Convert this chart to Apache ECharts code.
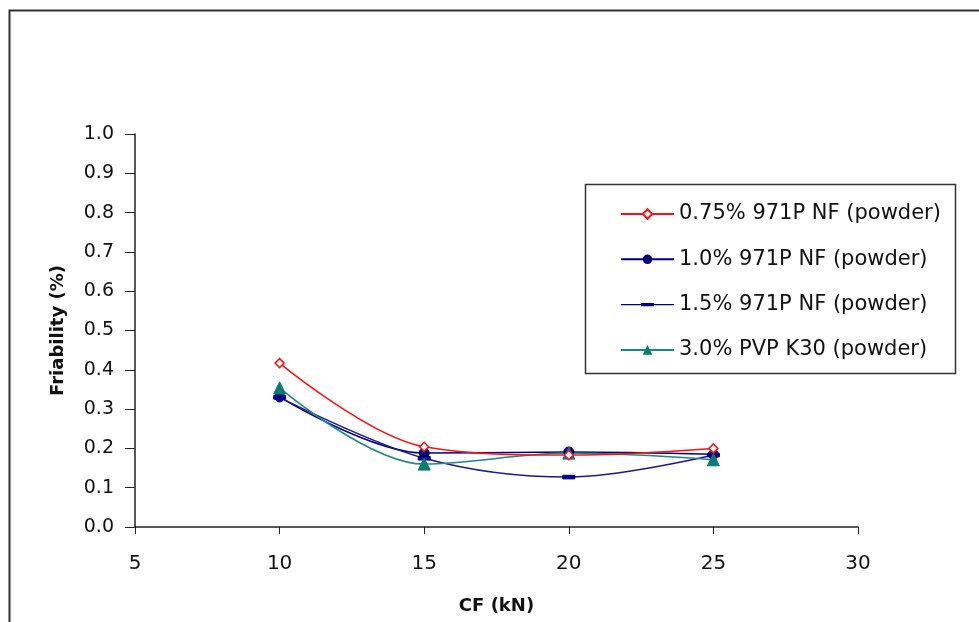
<!DOCTYPE html>
<html>
<head>
<meta charset="utf-8">
<script src="https://cdn.jsdelivr.net/npm/echarts@6/dist/echarts.min.js"></script>
<style>
html,body{margin:0;padding:0;background:#fff;}
#c{width:979px;height:622px;}
</style>
</head>
<body>
<div id="c"></div>
<script>
const cf = [10, 15, 20, 25];
const s075 = [0.417, 0.204, 0.183, 0.200];
const s100 = [0.331, 0.188, 0.191, 0.185];
const s150 = [0.330, 0.175, 0.127, 0.183];
const s300 = [0.354, 0.160, 0.188, 0.171];
const seriesNames = ['0.75% 971P NF (powder)', '1.0% 971P NF (powder)', '1.5% 971P NF (powder)', '3.0% PVP K30 (powder)'];
const yTicks = [0.0, 0.1, 0.2, 0.3, 0.4, 0.5, 0.6, 0.7, 0.8, 0.9, 1.0];
const xTicks = [5, 10, 15, 20, 25, 30];

const font = 'DejaVu Sans, Arial, sans-serif';
const chart = echarts.init(document.getElementById('c'));
const pair = arr => cf.map((x, i) => [x, arr[i]]);

const dashPath = 'path://M0,0 L10,0 L10,3 L0,3 Z';
const dashLegendIcon = 'path://M0,0 L0.05,0 L0,0.05 Z M53,12 L52.95,12 L53,11.95 Z M0,5.3 L53,5.3 L53,6.7 L0,6.7 Z M20,4.3 L33,4.3 L33,7.7 L20,7.7 Z';

chart.setOption({
  animation: false,
  backgroundColor: '#fff',
  graphic: [
    {type: 'rect', shape: {x: 9.5, y: 10.5, width: 1000, height: 700}, style: {fill: 'none', stroke: '#333', lineWidth: 2}, z: 0},
    {type: 'rect', shape: {x: 585.5, y: 184.5, width: 370, height: 189}, style: {fill: '#fff', stroke: '#333', lineWidth: 1.5}, z: 1}
  ],
  grid: {left: 135, right: 121, top: 134, bottom: 95, containLabel: false, outerBoundsMode: 'none'},
  legend: {
    orient: 'vertical',
    left: 615,
    top: 197,
    itemGap: 21.3,
    itemWidth: 53,
    itemHeight: 12,
    itemTextGap: 5,
    z: 5,
    textStyle: {fontFamily: font, fontSize: 21, lineHeight: 24, color: '#111'},
    data: [
      {name: seriesNames[0]},
      {name: seriesNames[1]},
      {name: seriesNames[2], icon: dashLegendIcon},
      {name: seriesNames[3]}
    ]
  },
  xAxis: {
    type: 'value', min: 5, max: 30, interval: 5,
    name: 'CF (kN)', nameLocation: 'middle', nameGap: 70,
    nameTextStyle: {fontFamily: font, fontSize: 18, fontWeight: 'bold', color: '#111'},
    axisLine: {lineStyle: {color: '#222', width: 1.5}},
    axisTick: {show: true, inside: false, length: 7, lineStyle: {color: '#222'}},
    axisLabel: {fontFamily: font, fontSize: 20, color: '#111', margin: 27, formatter: v => xTicks.includes(v) ? String(v) : ''},
    splitLine: {show: false}
  },
  yAxis: {
    type: 'value', min: 0, max: 1, interval: 0.1,
    name: 'Friability (%)', nameLocation: 'middle', nameGap: 68, nameRotate: 90,
    nameTextStyle: {fontFamily: font, fontSize: 18, fontWeight: 'bold', color: '#111'},
    axisLine: {show: true, lineStyle: {color: '#222', width: 1.5}},
    axisTick: {show: true, inside: false, length: 10, lineStyle: {color: '#222'}},
    axisLabel: {fontFamily: font, fontSize: 19, color: '#111', margin: 21, formatter: v => v.toFixed(1)},
    splitLine: {show: false}
  },
  series: [
    {name: seriesNames[0], type: 'line', data: pair(s075), smooth: 0.35, z: 4,
     symbol: 'path://M5,0 L10,5 L5,10 L0,5 Z', symbolSize: 9,
     lineStyle: {color: '#ff1010', width: 1.5},
     itemStyle: {color: '#fff', borderColor: '#ff1010', borderWidth: 1.5}},
    {name: seriesNames[1], type: 'line', data: pair(s100), smooth: 0.35, z: 3,
     symbol: 'circle', symbolSize: 10,
     lineStyle: {color: '#000080', width: 1.5},
     itemStyle: {color: '#000080', borderColor: '#000080'}},
    {name: seriesNames[2], type: 'line', data: pair(s150), smooth: 0.35, z: 3,
     symbol: dashPath, symbolSize: 12, symbolKeepAspect: true,
     lineStyle: {color: '#1a1a90', width: 1.5},
     itemStyle: {color: '#000080', borderColor: '#000080'}},
    {name: seriesNames[3], type: 'line', data: pair(s300), smooth: 0.35, z: 3,
     symbol: 'triangle', symbolSize: 12,
     lineStyle: {color: '#1a8a82', width: 1.5},
     itemStyle: {color: '#0a7a72', borderColor: '#0a7a72'}}
  ]
});
</script>
</body>
</html>
